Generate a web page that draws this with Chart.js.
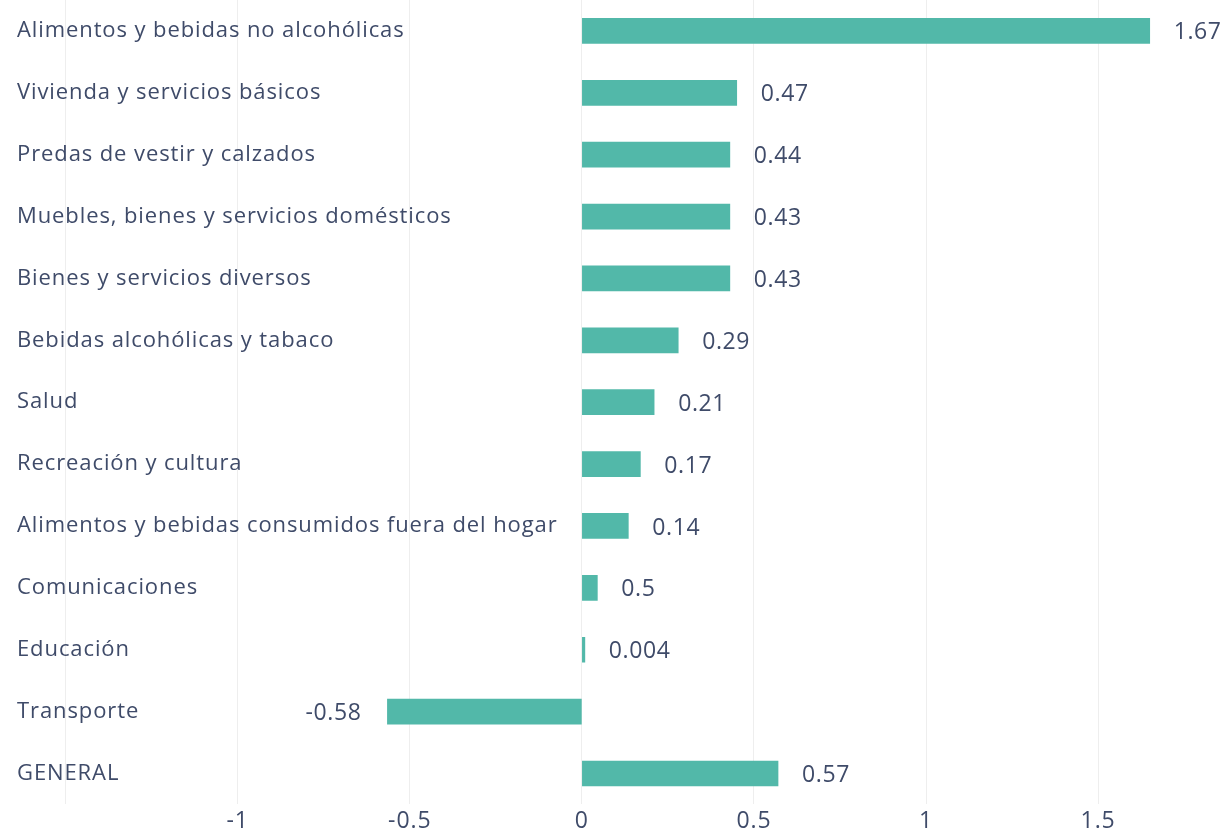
<!DOCTYPE html>
<html>
<head>
<meta charset="utf-8">
<script src="https://cdn.jsdelivr.net/npm/chart.js@4/dist/chart.umd.min.js"></script>
<style>
  html, body { margin: 0; padding: 0; background: #ffffff; }
  #wrap { width: 1224px; height: 838px; position: relative; }
</style>
</head>
<body>
<div id="wrap"><canvas id="c"></canvas></div>
<script>
const categories = [
  "Alimentos y bebidas no alcohólicas",
  "Vivienda y servicios básicos",
  "Predas de vestir y calzados",
  "Muebles, bienes y servicios domésticos",
  "Bienes y servicios diversos",
  "Bebidas alcohólicas y tabaco",
  "Salud",
  "Recreación y cultura",
  "Alimentos y bebidas consumidos fuera del hogar",
  "Comunicaciones",
  "Educación",
  "Transporte",
  "GENERAL"
];
const values = [1.65, 0.45, 0.43, 0.43, 0.43, 0.28, 0.21, 0.17, 0.135, 0.045, 0.004, -0.565, 0.57];
const valueLabels = ["1.67", "0.47", "0.44", "0.43", "0.43", "0.29", "0.21", "0.17", "0.14", "0.5", "0.004", "-0.58", "0.57"];
const xTicks = [-1.5, -1, -0.5, 0, 0.5, 1, 1.5];

const TEXT = "#3f4b69";
const BAR = "#52b8a9";
const FONT = "'Open Sans', 'Noto Sans', sans-serif";

const spacingPlugin = {
  id: "spacing",
  beforeDraw(chart) {
    if ("letterSpacing" in chart.ctx) chart.ctx.letterSpacing = "0.9px";
  }
};

const valueLabelPlugin = {
  id: "valueLabels",
  afterDatasetsDraw(chart) {
    const ctx = chart.ctx;
    const meta = chart.getDatasetMeta(0);
    ctx.save();
    if ("letterSpacing" in ctx) ctx.letterSpacing = "0.6px";
    ctx.font = "23px " + FONT;
    ctx.fillStyle = TEXT;
    ctx.textBaseline = "middle";
    meta.data.forEach((bar, i) => {
      const v = values[i];
      if (v >= 0) {
        ctx.textAlign = "left";
        ctx.fillText(valueLabels[i], bar.x + 24, bar.y + 2);
      } else {
        ctx.textAlign = "right";
        ctx.fillText(valueLabels[i], bar.x - 26, bar.y + 2);
      }
    });
    ctx.restore();
  }
};

new Chart(document.getElementById("c"), {
  type: "bar",
  data: {
    labels: categories,
    datasets: [{
      data: values,
      backgroundColor: BAR,
      borderWidth: 0,
      barThickness: 25,
      minBarLength: 3
    }]
  },
  options: {
    indexAxis: "y",
    responsive: true,
    maintainAspectRatio: false,
    animation: false,
    layout: { padding: { top: 0, bottom: 0, left: 14, right: 2 } },
    plugins: { legend: { display: false }, tooltip: { enabled: false } },
    scales: {
      x: {
        type: "linear",
        min: -1.65,
        max: 1.86,
        afterBuildTicks(scale) { scale.ticks = xTicks.map(v => ({ value: v })); },
        afterFit(scale) { scale.paddingLeft = 0; scale.paddingRight = 0; },
        grid: { color: "#eeeeee", lineWidth: 1, drawTicks: false },
        border: { display: false },
        ticks: {
          color: TEXT,
          font: { family: FONT, size: 23 },
          padding: 3,
          callback: (v) => (v === -1.5 ? "" : String(v))
        }
      },
      y: {
        afterFit(scale) { scale.width = 0; scale.paddingTop = 0; scale.paddingBottom = 0; },
        grid: { display: false },
        border: { display: false },
        ticks: {
          mirror: true,
          padding: 3,
          color: TEXT,
          font: { family: FONT, size: 22 }
        }
      }
    }
  },
  plugins: [spacingPlugin, valueLabelPlugin]
});
</script>
</body>
</html>
